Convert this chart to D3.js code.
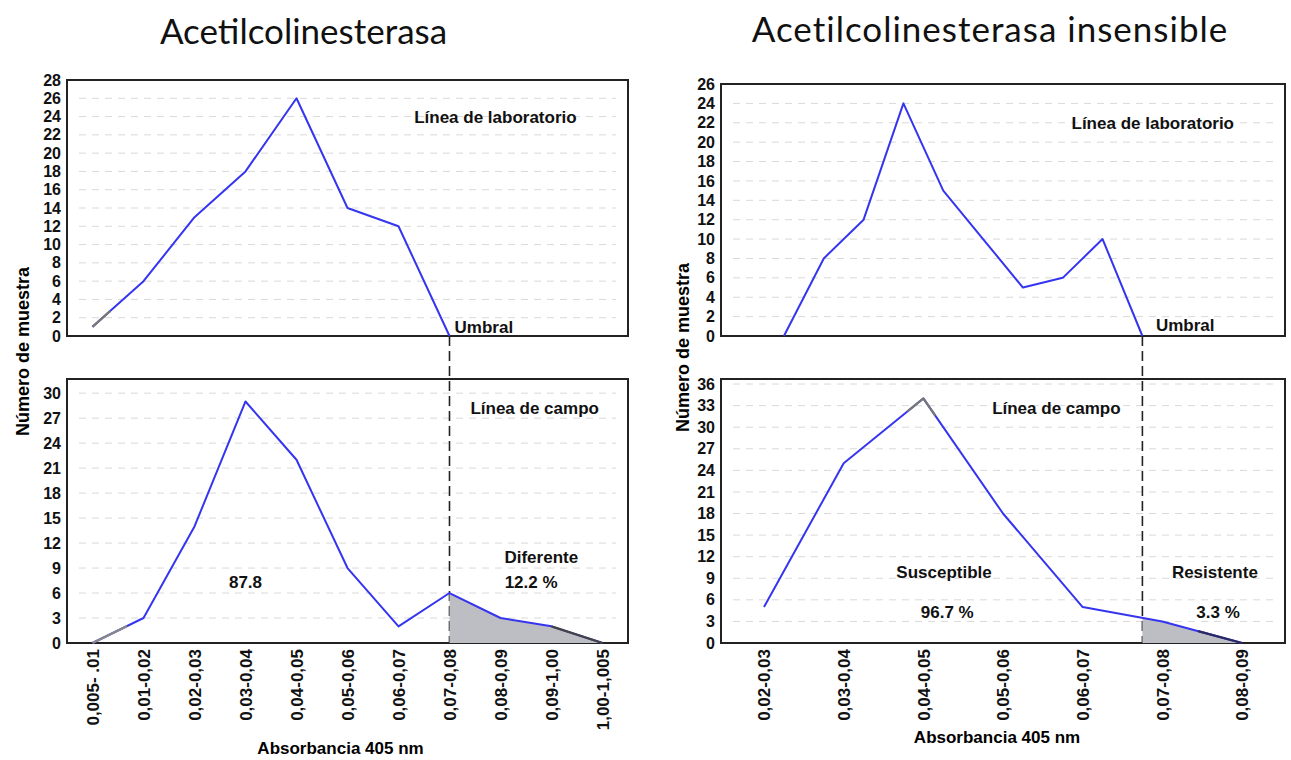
<!DOCTYPE html>
<html>
<head>
<meta charset="utf-8">
<script src="https://cdn.jsdelivr.net/npm/d3@7"></script>
<style>
    body { margin: 0; background: #fff; }
    svg text { font-family: "Liberation Sans", Arial, sans-serif; }
    .tick text { font-weight: bold; fill: #111; }
</style>
</head>
<body>
<svg id="chart" width="1291" height="760"></svg>
<script>
// ---- data ----
const leftCategories = ["0,005- .01", "0,01-0,02", "0,02-0,03", "0,03-0,04", "0,04-0,05", "0,05-0,06",
    "0,06-0,07", "0,07-0,08", "0,08-0,09", "0,09-1,00", "1,00-1,005"];
const leftLabCounts = [1, 6, 13, 18, 26, 14, 12, 0];          // lab line stops at the threshold bin
const leftFieldCounts = [0, 3, 14, 29, 22, 9, 2, 6, 3, 2, 0];
const leftThreshold = 7;                                        // index of "0,07-0,08"
const leftLabTicks = [0, 2, 4, 6, 8, 10, 12, 14, 16, 18, 20, 22, 24, 26, 28];
const leftFieldTicks = [0, 3, 6, 9, 12, 15, 18, 21, 24, 27, 30];

const rightCategories = ["0,02-0,03", "0,03-0,04", "0,04-0,05", "0,05-0,06", "0,06-0,07", "0,07-0,08", "0,08-0,09"];
const rightLabPositions = [0.25, 0.75, 1.25, 1.75, 2.25, 2.75, 3.25, 3.75, 4.25, 4.75]; // in category steps
const rightLabCounts = [0, 8, 12, 24, 15, 10, 5, 6, 10, 0];
const rightFieldCounts = [5, 25, 34, 18, 5, 3, 0];
const rightThreshold = 4.75;
const rightLabTicks = [0, 2, 4, 6, 8, 10, 12, 14, 16, 18, 20, 22, 24, 26];
const rightFieldTicks = [0, 3, 6, 9, 12, 15, 18, 21, 24, 27, 30, 33, 36];

const svg = d3.select("#chart");
const BLUE = "#3535f0";

function drawPanel(cfg) {
    const g = svg.append("g");

    // x: category positions, plus a linear "index" scale for in-between positions
    const xPoint = d3.scalePoint().domain(cfg.categories).range([cfg.x0, cfg.x1]).padding(cfg.pad);
    const n = cfg.categories.length;
    const xIdx = d3.scaleLinear().domain([0, n - 1])
        .range([xPoint(cfg.categories[0]), xPoint(cfg.categories[n - 1])]);

    const yTop = d3.scaleLinear().domain([0, cfg.labMax]).range([cfg.topBox[1], cfg.topBox[0]]);
    const yBot = d3.scaleLinear().domain([0, cfg.fieldMax]).range([cfg.botBox[1], cfg.botBox[0]]);

    // Title
    g.append("text")
        .attr("x", (cfg.x0 + cfg.x1) / 2 + cfg.titleShift)
        .attr("y", cfg.titleY)
        .attr("text-anchor", "middle")
        .style("font-family", "Lato, 'Open Sans', sans-serif")
        .style("font-size", "35px")
        .style("letter-spacing", cfg.titleSpacing)
        .style("fill", "#111")
        .text(cfg.title);

    [[yTop, cfg.topBox, cfg.labTicks], [yBot, cfg.botBox, cfg.fieldTicks]].forEach(([y, box, ticks]) => {
        // faint dashed grid
        g.append("g").selectAll("line")
            .data(ticks.filter(t => t > 0))
            .join("line")
            .attr("x1", cfg.x0 + 12).attr("x2", cfg.x1 - 12)
            .attr("y1", d => y(d)).attr("y2", d => y(d))
            .attr("stroke", "#d9d9d9")
            .attr("stroke-width", 1)
            .attr("stroke-dasharray", "7,6");

        // y axis labels
        const ax = g.append("g")
            .attr("transform", `translate(${cfg.x0},0)`)
            .call(d3.axisLeft(y).tickValues(ticks).tickSize(0).tickPadding(6));
        ax.select(".domain").remove();
        ax.selectAll("text").style("font-size", "16px");

        // frame
        g.append("rect")
            .attr("x", cfg.x0).attr("y", box[0])
            .attr("width", cfg.x1 - cfg.x0).attr("height", box[1] - box[0])
            .attr("fill", "none")
            .attr("stroke", "#222")
            .attr("stroke-width", 2);
    });

    // bottom axis with rotated category labels
    const xa = g.append("g")
        .attr("transform", `translate(0,${cfg.botBox[1]})`)
        .call(d3.axisBottom(xPoint).tickSize(0).tickPadding(0));
    xa.select(".domain").remove();
    xa.selectAll("text")
        .style("font-size", "17px")
        .attr("text-anchor", "end")
        .attr("transform", "rotate(-90)")
        .attr("x", -6)
        .attr("y", 0)
        .attr("dy", "0.35em");

    // threshold (Umbral) dashed line
    const xThr = xIdx(cfg.threshold);
    g.append("line")
        .attr("x1", xThr).attr("x2", xThr)
        .attr("y1", yTop(0)).attr("y2", yBot(0))
        .attr("stroke", "#222")
        .attr("stroke-width", 1.6)
        .attr("stroke-dasharray", "10,5");

    // field series: shaded tail past the threshold
    const fieldPts = cfg.fieldCounts.map((v, i) => [xIdx(i), yBot(v)]);
    const clipId = "clip-" + cfg.id;
    g.append("clipPath").attr("id", clipId)
        .append("rect")
        .attr("x", xThr).attr("y", cfg.botBox[0])
        .attr("width", cfg.x1 - xThr).attr("height", cfg.botBox[1] - cfg.botBox[0]);
    g.append("path")
        .datum(cfg.fieldCounts)
        .attr("clip-path", `url(#${clipId})`)
        .attr("fill", "#bdbdc4")
        .attr("d", d3.area().x((d, i) => xIdx(i)).y0(yBot(0)).y1(d => yBot(d)));

    const line = d3.line();
    const labPts = cfg.labCounts.map((v, i) => [xIdx(cfg.labX[i]), yTop(v)]);

    [labPts, fieldPts].forEach(pts => {
        g.append("path")
            .attr("d", line(pts))
            .attr("fill", "none")
            .attr("stroke", BLUE)
            .attr("stroke-width", 2)
            .attr("stroke-linejoin", "round");
    });

    // faded pieces of the original trace (drawn grey in the figure)
    const tint = (pts, i, t0, t1, color) => {
        const a = d3.interpolate(pts[i], pts[i + 1]);
        g.append("line")
            .attr("x1", a(t0)[0]).attr("y1", a(t0)[1])
            .attr("x2", a(t1)[0]).attr("y2", a(t1)[1])
            .attr("stroke", color)
            .attr("stroke-width", 2.2);
    };
    cfg.tints.forEach(t => tint(t.lab ? labPts : fieldPts, t.i, t.t0, t.t1, t.color));

    // annotations, placed in data units
    const note = (txt, xi, v, y, anchor = "middle") => g.append("text")
        .attr("x", xIdx(xi)).attr("y", y(v))
        .attr("text-anchor", anchor)
        .style("font-size", "17px")
        .style("font-weight", "bold")
        .style("fill", "#111")
        .text(txt);
    cfg.notes.forEach(nt => note(nt[0], nt[1], nt[2], nt[3] === "top" ? yTop : yBot, nt[4]));

    // axis titles
    g.append("text")
        .attr("transform", `translate(${cfg.yLabelX},${(cfg.topBox[0] + cfg.botBox[1]) / 2 + cfg.yLabelShift}) rotate(-90)`)
        .attr("text-anchor", "middle")
        .attr("dy", "0.35em")
        .style("font-size", "18px")
        .style("font-weight", "bold")
        .text("Número de muestra");

    g.append("text")
        .attr("x", (cfg.x0 + cfg.x1) / 2 + cfg.xLabelShift)
        .attr("y", cfg.xLabelY)
        .attr("text-anchor", "middle")
        .style("font-size", "17px")
        .style("font-weight", "bold")
        .text("Absorbancia 405 nm");
}

drawPanel({
    id: "left",
    title: "Acetilcolinesterasa", titleY: 44, titleShift: -44, titleSpacing: "0px",
    categories: leftCategories, pad: 0.5,
    x0: 67, x1: 628, topBox: [80, 336], botBox: [379, 643],
    labMax: 28, fieldMax: 31.7,
    labTicks: leftLabTicks, fieldTicks: leftFieldTicks,
    labX: leftLabCounts.map((d, i) => i),
    labCounts: leftLabCounts, fieldCounts: leftFieldCounts,
    threshold: leftThreshold,
    tints: [
        { lab: true, i: 0, t0: 0, t1: 0.35, color: "#777" },
        { lab: false, i: 0, t0: 0, t1: 0.68, color: "#888" },
        { lab: false, i: 9, t0: 0, t1: 1, color: "#444" }
    ],
    notes: [
        ["Línea de laboratorio", 7.9, 23.3, "top"],
        ["Umbral", 7.1, 0.35, "top", "start"],
        ["Línea de campo", 8.67, 27.5, "bot"],
        ["Diferente", 8.8, 9.6, "bot"],
        ["12.2 %", 8.6, 6.6, "bot"],
        ["87.8", 3.0, 6.6, "bot"]
    ],
    yLabelX: 23, yLabelShift: -10,
    xLabelShift: -7, xLabelY: 754
});

drawPanel({
    id: "right",
    title: "Acetilcolinesterasa insensible", titleY: 42, titleShift: -13, titleSpacing: "1px",
    categories: rightCategories, pad: 0.54,
    x0: 721, x1: 1285, topBox: [84, 336], botBox: [379, 643],
    labMax: 26, fieldMax: 36.7,
    labTicks: rightLabTicks, fieldTicks: rightFieldTicks,
    labX: rightLabPositions,
    labCounts: rightLabCounts, fieldCounts: rightFieldCounts,
    threshold: rightThreshold,
    tints: [
        { lab: false, i: 1, t0: 0.8, t1: 1, color: "#777" },
        { lab: false, i: 2, t0: 0, t1: 0.15, color: "#777" },
        { lab: false, i: 5, t0: 0.45, t1: 1, color: "#2a2a60" }
    ],
    notes: [
        ["Línea de laboratorio", 4.88, 21.4, "top"],
        ["Umbral", 4.92, 0.5, "top", "start"],
        ["Línea de campo", 3.67, 31.8, "bot"],
        ["Susceptible", 2.26, 9.0, "bot"],
        ["96.7 %", 2.3, 3.5, "bot"],
        ["Resistente", 5.66, 9.1, "bot"],
        ["3.3 %", 5.7, 3.5, "bot"]
    ],
    yLabelX: 683, yLabelShift: -16,
    xLabelShift: -6, xLabelY: 743
});
</script>
</body>
</html>
